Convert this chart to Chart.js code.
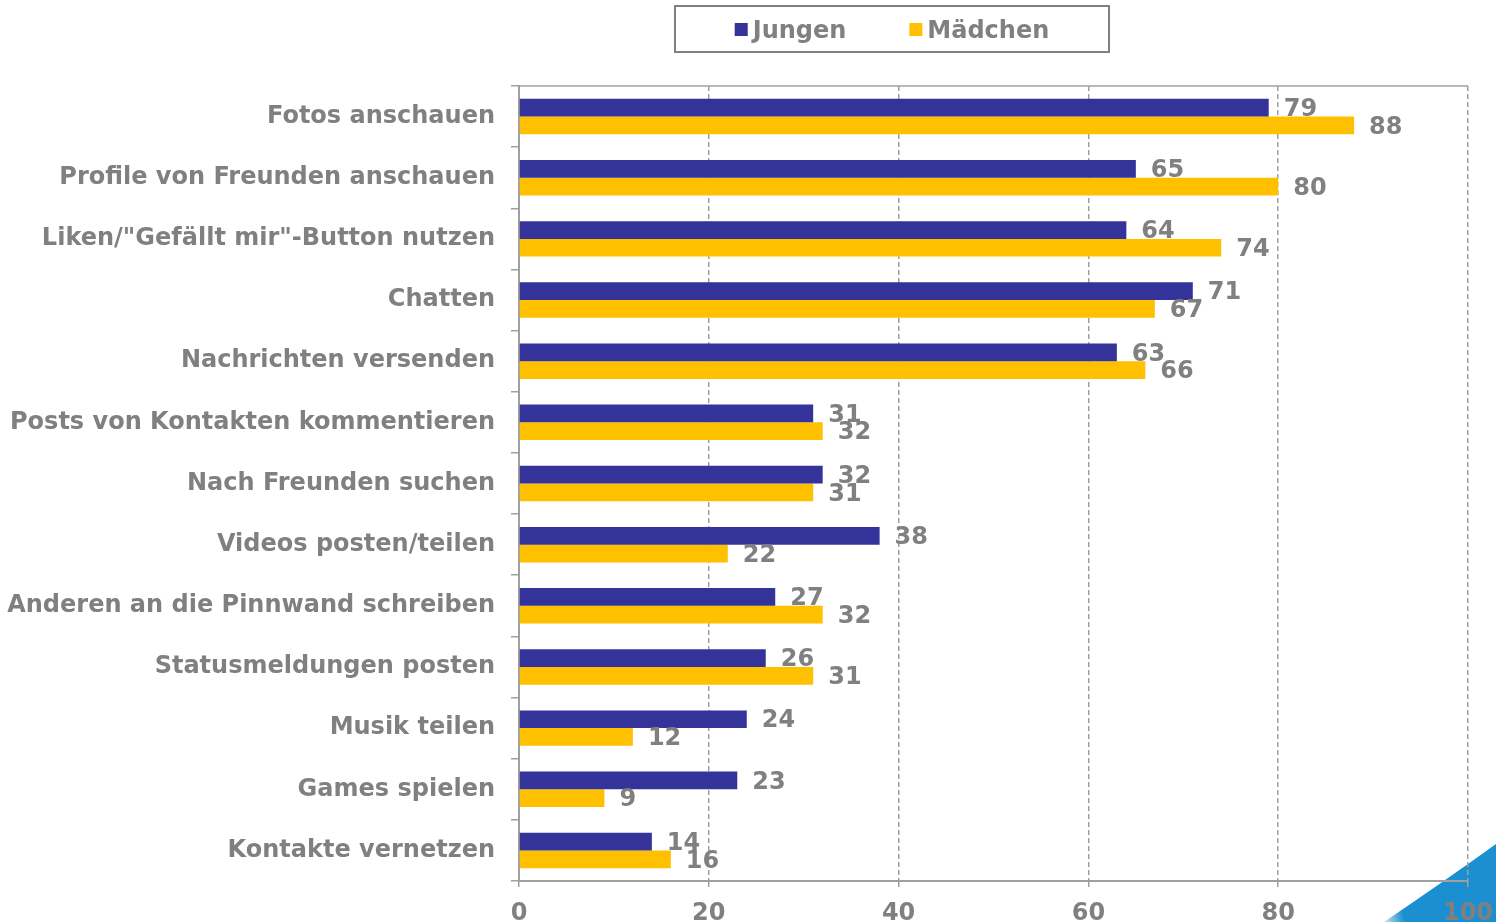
<!DOCTYPE html>
<html>
<head>
<meta charset="utf-8">
<script src="https://cdn.jsdelivr.net/npm/chart.js@4"></script>
<style>
    html, body { margin: 0; padding: 0; background: #fff; }
    #wrap { width: 1496px; height: 922px; position: relative; }
</style>
</head>
<body>
<div id="wrap"><canvas id="myChart"></canvas></div>
<script>
// Activities in social networks, boys vs. girls (percent)
const activities = [
    'Fotos anschauen',
    'Profile von Freunden anschauen',
    'Liken/"Gefällt mir"-Button nutzen',
    'Chatten',
    'Nachrichten versenden',
    'Posts von Kontakten kommentieren',
    'Nach Freunden suchen',
    'Videos posten/teilen',
    'Anderen an die Pinnwand schreiben',
    'Statusmeldungen posten',
    'Musik teilen',
    'Games spielen',
    'Kontakte vernetzen'
];
const jungen = [79, 65, 64, 71, 63, 31, 32, 38, 27, 26, 24, 23, 14];
const maedchen = [88, 80, 74, 67, 66, 32, 31, 22, 32, 31, 12, 9, 16];
const xTicks = [0, 20, 40, 60, 80, 100];

const grey = '#808080';
const lineGrey = '#a0a0a0';
const fontFamily = '"DejaVu Sans", Verdana, sans-serif';
const boldFont = 'bold 24px ' + fontFamily;

// value labels next to each bar
const valueLabels = {
    id: 'valueLabels',
    afterDatasetsDraw(chart) {
        const ctx = chart.ctx;
        ctx.save();
        ctx.font = boldFont;
        ctx.fillStyle = grey;
        ctx.textAlign = 'left';
        ctx.textBaseline = 'middle';
        chart.data.datasets.forEach((ds, i) => {
            chart.getDatasetMeta(i).data.forEach((bar, j) => {
                ctx.fillText(ds.data[j], bar.x + 15, bar.y + 2);
            });
        });
        ctx.restore();
    }
};

// framed legend at the top, top border line and the blue corner shape
const decorations = {
    id: 'decorations',
    beforeDraw(chart) {
        const ctx = chart.ctx;
        const w = chart.width, h = chart.height;
        ctx.save();
        const grad = ctx.createLinearGradient(w - 125, h - 20, w - 60, h - 40);
        grad.addColorStop(0, 'rgba(27,143,207,0)');
        grad.addColorStop(0.4, '#1b8fcf');
        grad.addColorStop(1, '#1b8fcf');
        ctx.fillStyle = grad;
        ctx.beginPath();
        ctx.moveTo(w - 112, h);
        ctx.quadraticCurveTo(w - 50, h - 42, w, h - 78);
        ctx.lineTo(w, h);
        ctx.closePath();
        ctx.fill();
        ctx.restore();
    },
    afterDraw(chart) {
        const ctx = chart.ctx;
        const a = chart.chartArea;
        ctx.save();
        ctx.strokeStyle = lineGrey;
        ctx.lineWidth = 1.5;
        ctx.beginPath();
        ctx.moveTo(a.left, a.top);
        ctx.lineTo(a.right, a.top);
        ctx.stroke();

        // legend
        const cx = 892, cy = 29;
        ctx.strokeStyle = grey;
        ctx.lineWidth = 2;
        ctx.strokeRect(cx - 217, cy - 23, 434, 46);
        ctx.font = boldFont;
        ctx.textBaseline = 'middle';
        const box = 13, gap = 5, spacing = 63;
        const items = chart.data.datasets.map(ds => ({
            text: ds.label, color: ds.backgroundColor, w: ctx.measureText(ds.label).width
        }));
        const total = items.reduce((s, it) => s + box + gap + it.w, 0) + spacing * (items.length - 1);
        let x = cx - total / 2;
        items.forEach(it => {
            ctx.fillStyle = it.color;
            ctx.fillRect(x, cy - 6, box, box);
            ctx.fillStyle = grey;
            ctx.fillText(it.text, x + box + gap, cy + 3);
            x += box + gap + it.w + spacing;
        });
        ctx.restore();
    }
};

const ctx = document.getElementById('myChart');

new Chart(ctx, {
    type: 'bar',
    data: {
        labels: activities,
        datasets: [{
            label: 'Jungen',
            data: jungen,
            backgroundColor: '#333399',
            categoryPercentage: 0.58,
            barPercentage: 1.0
        }, {
            label: 'Mädchen',
            data: maedchen,
            backgroundColor: '#ffc000',
            categoryPercentage: 0.58,
            barPercentage: 1.0
        }]
    },
    options: {
        indexAxis: 'y',
        responsive: true,
        maintainAspectRatio: false,
        animation: false,
        layout: {
            padding: { left: 0, right: 28, top: 86, bottom: 0 }
        },
        plugins: {
            legend: { display: false },
            tooltip: { enabled: false }
        },
        scales: {
            x: {
                min: 0,
                max: 100,
                afterBuildTicks: (scale) => {
                    scale.ticks = xTicks.map(v => ({ value: v }));
                },
                afterFit: (scale) => {
                    scale.height = 41;
                    scale.paddingRight = 0;
                },
                // border.dash sets the dash of the grid lines in v4
                border: { display: true, color: lineGrey, width: 2, dash: [5, 3] },
                grid: {
                    color: lineGrey,
                    lineWidth: 1.5,
                    tickLength: 8,
                    tickBorderDash: [5, 3]
                },
                ticks: {
                    color: grey,
                    padding: 10,
                    font: { family: fontFamily, size: 24, weight: 'bold' }
                }
            },
            y: {
                afterFit: (scale) => { scale.width = 519; },
                border: { display: true, color: lineGrey, width: 2 },
                grid: {
                    drawOnChartArea: false,
                    offset: true,
                    color: lineGrey,
                    lineWidth: 1.5,
                    tickLength: 8
                },
                ticks: {
                    color: grey,
                    padding: 16,
                    font: { family: fontFamily, size: 24, weight: 'bold' }
                }
            }
        }
    },
    plugins: [valueLabels, decorations]
});
</script>
</body>
</html>
